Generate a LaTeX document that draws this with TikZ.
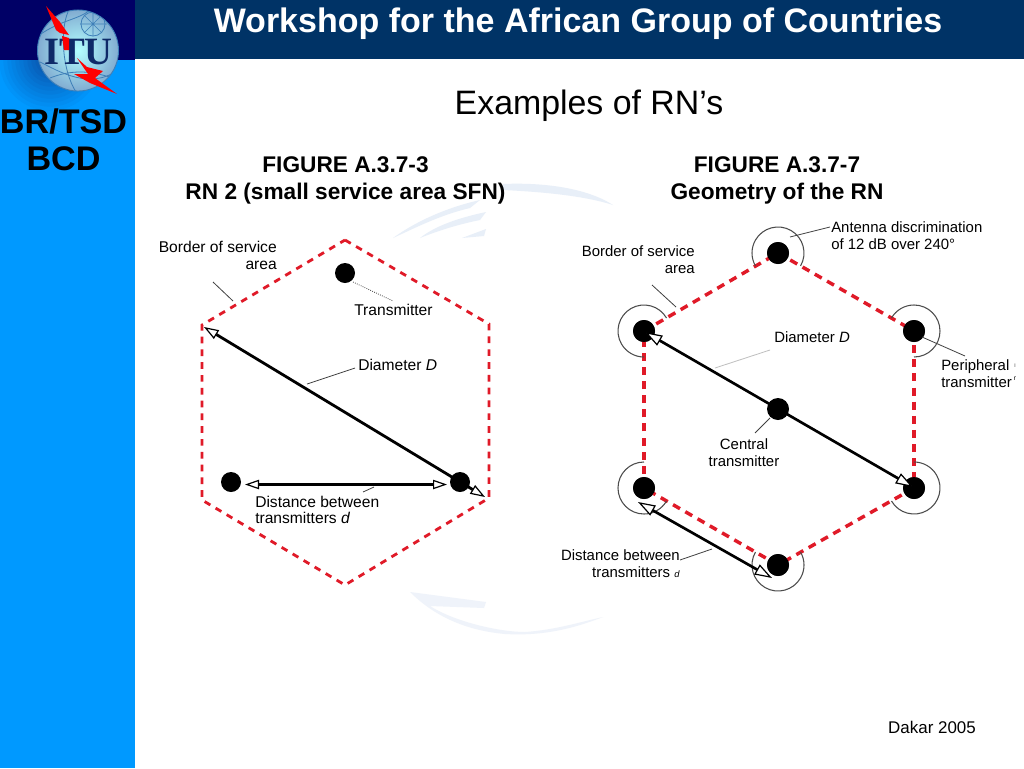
\documentclass[tikz,border=0pt]{standalone}
\usepackage{fontspec}
\setmainfont{Liberation Sans}
\newfontfamily\logofont{Liberation Serif}
\usetikzlibrary{arrows.meta}
\definecolor{sidebar}{HTML}{0099FF}
\definecolor{cornerblue}{HTML}{000066}
\definecolor{bandblue}{HTML}{003366}
\definecolor{shadowblue}{HTML}{0A50A8}
\definecolor{borderred}{HTML}{E01A28}
\definecolor{wmark}{HTML}{E8EFF8}
\definecolor{wmarkb}{HTML}{EFF3FA}
\definecolor{gridblue}{HTML}{3E7FB8}
\definecolor{itunavy}{HTML}{0E2A68}
\tikzset{
  lbl/.style={inner sep=0pt,font=\fontsize{11.7}{12.6}\selectfont,text=black},
  lblr/.style={inner sep=0pt,font=\fontsize{11.2}{12.6}\selectfont,text=black},
  head/.style={inner sep=0pt,align=center,font=\fontsize{17}{20.2}\selectfont\bfseries},
  bigside/.style={inner sep=0pt,align=center,font=\fontsize{25.6}{28}\selectfont\bfseries},
  txdot/.style={circle,fill=black,inner sep=0pt,minimum size=15pt},
  txdotb/.style={circle,fill=black,inner sep=0pt,minimum size=16.5pt},
  hexa/.style={borderred,line width=2.1pt,dash pattern=on 5pt off 4.6pt},
  hexb/.style={borderred,line width=2.6pt,dash pattern=on 6pt off 4.6pt},
  leader/.style={black!75,line width=.6pt},
  ant/.style={black!70,line width=.8pt},
  openarrowc/.style={black,line width=1.8pt,{Triangle[open,fill=white,length=10.5pt,width=7pt,line width=.9pt]}-{Triangle[open,fill=white,length=10.5pt,width=7pt,line width=.9pt]}},
  openarrowa/.style={black,line width=2.1pt,{Triangle[open,fill=white,length=11pt,width=7.5pt,line width=.9pt]}-{Triangle[open,fill=white,length=11pt,width=7.5pt,line width=.9pt]}},
  openarrowb/.style={black,line width=2pt,{Triangle[open,fill=white,length=13pt,width=8.5pt,line width=.9pt]}-{Triangle[open,fill=white,length=13pt,width=8.5pt,line width=.9pt]}},
}
\begin{document}
\begin{tikzpicture}[x=.75pt,y=-.75pt]
\useasboundingbox (0,0) rectangle (1024,768);
\fill[white] (0,0) rectangle (1024,768);
% bands
\fill[sidebar] (0,60) rectangle (135,768);
% shadow below the globe, in steps from the sidebar colour inwards
\foreach \r/\p in {38/8,35/16,32/24,29/32,26/40,23/48,20/56,17/64,14/72,11/80,8/88}{
  \fill[shadowblue!\p!sidebar] (50,60) circle[radius=\r pt];
}
\fill[cornerblue] (0,0) rectangle (135,60);
\fill[bandblue] (135,0) rectangle (1024,59);
% globe
\shade[inner color=white!70!cyan,outer color=gridblue!65!white] (78,50.5) circle[radius=30.4pt];
\begin{scope}
\clip (78,50.5) circle[radius=30.4pt];
\draw[gridblue,line width=.6pt] (93,24) circle[radius=9pt];
\draw[gridblue,line width=.5pt] (80,24) -- (107,24) (93,12) -- (93,36) (84,15) -- (102,33) (102,15) -- (84,33);
\draw[gridblue,line width=.6pt] (38,36) .. controls (60,20) and (78,20) .. (90,10);
\draw[gridblue,line width=.6pt] (40,62) .. controls (60,72) and (90,90) .. (118,70);
\draw[gridblue,line width=.6pt] (50,78) .. controls (70,70) and (90,70) .. (112,78);
\draw[gridblue,line width=.6pt] (68,12) .. controls (60,30) and (62,70) .. (76,92);
\end{scope}
\draw[gridblue,line width=.7pt] (78,50.5) circle[radius=30.4pt];
% logo letters and bolt
\node[inner sep=0pt,text=itunavy,font=\fontsize{29}{29}\logofont\bfseries] (itu) at (78.5,52) {ITU};
\fill[red] (46,6) -- (60,22) -- (69,35) -- (60,33) -- (56,30) -- cycle;
\fill[red] (62,36) -- (69,38) -- (69,50) -- (64,50) -- cycle;
\fill[red] (77,58) -- (87,67) -- (103,71) -- (95,78) -- (117,94) -- (90,83) -- (74,74) -- (88,74) -- cycle;
% side labels
\node[bigside,text=black] (side) at (63.5,139.5) {BR/TSD\\BCD};
% watermark
\fill[wmark] (503,184) .. controls (550,182) and (590,190) .. (613,205) .. controls (585,196) and (545,192) .. (503,190) -- cycle;
\fill[wmark] (393,238) .. controls (415,222) and (445,208) .. (480,200) -- (470,208) .. controls (440,215) and (415,228) .. (393,238) -- cycle;
\fill[wmark] (420,238) .. controls (435,226) and (458,218) .. (486,212) -- (480,220) .. controls (460,224) and (440,230) .. (420,238) -- cycle;
\fill[wmark] (462,238) -- (486,229) -- (484,236) -- cycle;
\fill[wmarkb] (410,592) -- (486,602) -- (484,608) -- (430,606) .. controls (455,622) and (500,632) .. (525,632) .. controls (555,630) and (580,622) .. (603,617) .. controls (570,630) and (540,636) .. (505,634) .. controls (460,630) and (430,612) .. (410,592) -- cycle;
% titles
\node[inner sep=0pt,text=white,font=\fontsize{25.5}{28}\selectfont\bfseries] (title) at (578,24) {Workshop for the African Group of Countries};
\node[inner sep=0pt,text=black,font=\fontsize{25.4}{28}\selectfont] (sub) at (589,106) {Examples of RN’s};
\node[head] (figl) at (345.5,180) {FIGURE A.3.7-3\\RN 2 (small service area SFN)};
\node[head] (figr) at (777,180) {FIGURE A.3.7-7\\Geometry of the RN};
\node[inner sep=0pt,text=black,font=\fontsize{12.7}{14}\selectfont] (dakar) at (932,727) {Dakar 2005};

% ---------- left figure
\coordinate (lt) at (345,240);
\coordinate (lur) at (489,324);
\coordinate (llr) at (489,498);
\coordinate (lb) at (345,585);
\coordinate (lll) at (202,500);
\coordinate (lul) at (202,325);
\draw[hexa] (lt) -- (lur) -- (llr) -- (lb) -- (lll) -- (lul) -- cycle;
\node[txdot] (ld1) at (345,273) {};
\node[txdot] (ld2) at (231,482) {};
\node[txdot] (ld3) at (460,482) {};
\coordinate (lDa) at (204,327);
\coordinate (lDb) at (485,497);
\draw[openarrowa] (lDa) -- (lDb);
\coordinate (lda) at (245,484.5);
\coordinate (ldb) at (447,484.5);
\coordinate (ldm) at (303,484.5);
\coordinate (ldn) at (258,484.5);
\draw[black,line width=2.8pt] (ldn) -- (ldm);
\draw[openarrowc] (lda) -- (ldb);
\node[lbl,anchor=east,align=right] (lborder) at (277,255.5) {Border of service\\area};
\node[lbl,anchor=west] (ltx) at (354,310) {Transmitter};
\node[lbl,anchor=west] (ldia) at (358,365) {Diameter \textit{D}};
\node[lbl,anchor=west,align=left] (ldist) at (255,510) {Distance between\\transmitters \textit{d}};
\coordinate (lc1) at (213,282); \coordinate (lc2) at (233,301);
\coordinate (lc3) at (353,282); \coordinate (lc4) at (393,301);
\coordinate (lc5) at (307,384); \coordinate (lc6) at (355,368);
\coordinate (lc7) at (363,492); \coordinate (lc8) at (374,487);
\draw[leader] (lc1) -- (lc2);
\draw[leader,densely dotted] (lc3) -- (lc4);
\draw[leader] (lc5) -- (lc6);
\draw[leader] (lc7) -- (lc8);

% ---------- right figure
\node[txdotb] (rt) at (778,253) {};
\node[txdotb] (rur) at (914,331) {};
\node[txdotb] (rlr) at (914,488) {};
\node[txdotb] (rb) at (778,565) {};
\node[txdotb] (rll) at (644,488) {};
\node[txdotb] (rul) at (644,331) {};
\node[txdotb] (rc) at (778,409) {};
\draw[hexb] (rt.center) -- (rur.center);
\draw[hexb] (rur.center) -- (rlr.center);
\draw[hexb] (rlr.center) -- (rb.center);
\draw[hexb] (rb.center) -- (rll.center);
\draw[hexb] (rll.center) -- (rul.center);
\draw[hexb] (rul.center) -- (rt.center);
\foreach \n/\a/\b in {rt/-30/210,rur/270/510,rlr/210/450,rb/150/390,rll/90/330,rul/30/270}{
  \draw[ant] ([shift={(\a:19.5pt)}]\n.center) arc[start angle=\a,end angle=\b,radius=19.5pt];
}
\node[txdotb] at (rt) {};
\node[txdotb] at (rur) {};
\node[txdotb] at (rlr) {};
\node[txdotb] at (rb) {};
\node[txdotb] at (rll) {};
\node[txdotb] at (rul) {};
\coordinate (rDa) at (645,332);
\coordinate (rDb) at (913,487);
\draw[openarrowb] (rDa) -- (rDb);
\coordinate (rda) at (638,502);
\coordinate (rdb) at (772,578);
\draw[openarrowb] (rda) -- (rdb);
\node[lblr,anchor=west,align=left] (rant) at (831,235.5) {Antenna discrimination\\of 12 dB over 240°};
\node[lblr,anchor=east,align=right] (rborder) at (695,259.5) {Border of service\\area};
\node[lblr,anchor=west] (rdia) at (774,337) {Diameter \textit{D}};
\node[lblr,anchor=west,align=left] (rper) at (941,373.5) {Peripheral\\transmitter};
\node[inner sep=0pt,text=black!60,font=\fontsize{5}{5}\selectfont] (rm1) at (1015,366) {ı};
\node[inner sep=0pt,text=black,font=\fontsize{5}{5}\selectfont] (rm2) at (1015,379) {r};
\node[lblr,align=center] (rcen) at (744,452.5) {Central\\transmitter};
\node[lblr,anchor=east,align=right] (rdist) at (680,563.5) {Distance between\\transmitters {\fontsize{7}{8}\selectfont\textit{d}}};
\coordinate (rc1) at (790,237); \coordinate (rc2) at (830,227);
\coordinate (rc3) at (652,285); \coordinate (rc4) at (676,307);
\coordinate (rc5) at (715,368); \coordinate (rc6) at (770,350);
\coordinate (rc7) at (922,337); \coordinate (rc8) at (965,356);
\coordinate (rc9) at (770,418); \coordinate (rc10) at (755,433);
\coordinate (rc11) at (680,560); \coordinate (rc12) at (712,549);
\draw[leader] (rc1) -- (rc2);
\draw[leader] (rc3) -- (rc4);
\draw[black!25,line width=.6pt] (rc5) -- (rc6);
\draw[leader] (rc7) -- (rc8);
\draw[leader] (rc9) -- (rc10);
\draw[leader] (rc11) -- (rc12);
\end{tikzpicture}
\end{document}
